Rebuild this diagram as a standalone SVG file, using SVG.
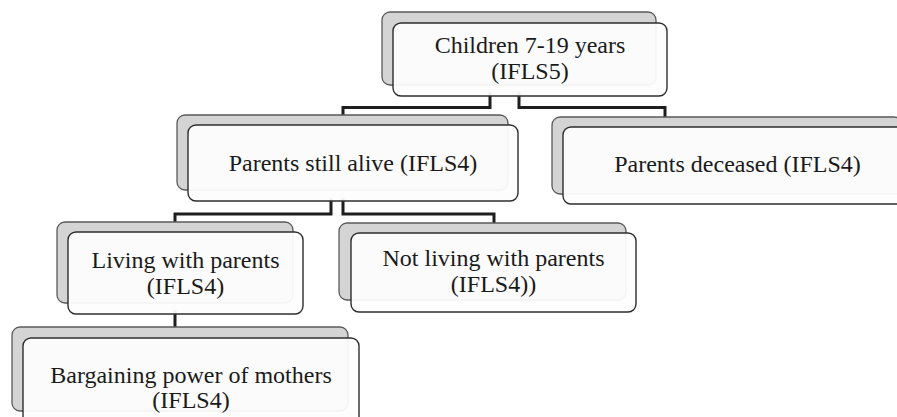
<svg xmlns="http://www.w3.org/2000/svg" width="897" height="417" viewBox="0 0 897 417">
<style>
.bg{fill:#ffffff}
.sh{fill:#d4d4d4;stroke:#5a5a5a;stroke-width:1.3}
.fr{fill:#fdfdfd;fill-opacity:0.94;stroke:#2e2e2e;stroke-width:1.4}
.cn{fill:none;stroke:#1e1e1e;stroke-width:3}
text{font-family:"Liberation Serif","DejaVu Serif",serif;font-size:24px;fill:#1a1a1a;text-anchor:middle}
</style>
<rect class="bg" x="0" y="0" width="897" height="417"/>
<g id="connectors">
<path class="cn" d="M490 92 V107.5 H343 V118"/>
<path class="cn" d="M519 92 V107.5 H665 V120"/>
<path class="cn" d="M331 198 V214 H175 V225"/>
<path class="cn" d="M343 198 V214 H494 V226"/>
<path class="cn" d="M175 310 V330"/>
</g>
<g id="n-children">
<rect class="sh" x="382" y="12" width="274" height="73" rx="8"/>
<rect class="fr" x="393" y="23" width="274" height="73" rx="8"/>
<text x="530" y="53">Children 7-19 years</text>
<text x="530" y="79">(IFLS5)</text>
</g>
<g id="n-alive">
<rect class="sh" x="177" y="115" width="331" height="75" rx="8"/>
<rect class="fr" x="188" y="125" width="330" height="76" rx="8"/>
<text x="353" y="171">Parents still alive (IFLS4)</text>
</g>
<g id="n-deceased">
<rect class="sh" x="552" y="117" width="350" height="77" rx="8"/>
<rect class="fr" x="563" y="127" width="350" height="77" rx="8"/>
<text x="737.5" y="172">Parents deceased (IFLS4)</text>
</g>
<g id="n-living">
<rect class="sh" x="57" y="222" width="236" height="81" rx="8"/>
<rect class="fr" x="68" y="232" width="235" height="82" rx="8"/>
<text x="185.5" y="268">Living with parents</text>
<text x="185.5" y="294">(IFLS4)</text>
</g>
<g id="n-notliving">
<rect class="sh" x="339" y="223" width="287" height="77" rx="8"/>
<rect class="fr" x="351" y="233" width="285" height="79" rx="8"/>
<text x="493.5" y="266">Not living with parents</text>
<text x="493.5" y="292">(IFLS4))</text>
</g>
<g id="n-bargaining">
<rect class="sh" x="12" y="327" width="336" height="84" rx="8"/>
<rect class="fr" x="23" y="338" width="336" height="90" rx="8"/>
<text x="191" y="383">Bargaining power of mothers</text>
<text x="191" y="408">(IFLS4)</text>
</g>
</svg>
